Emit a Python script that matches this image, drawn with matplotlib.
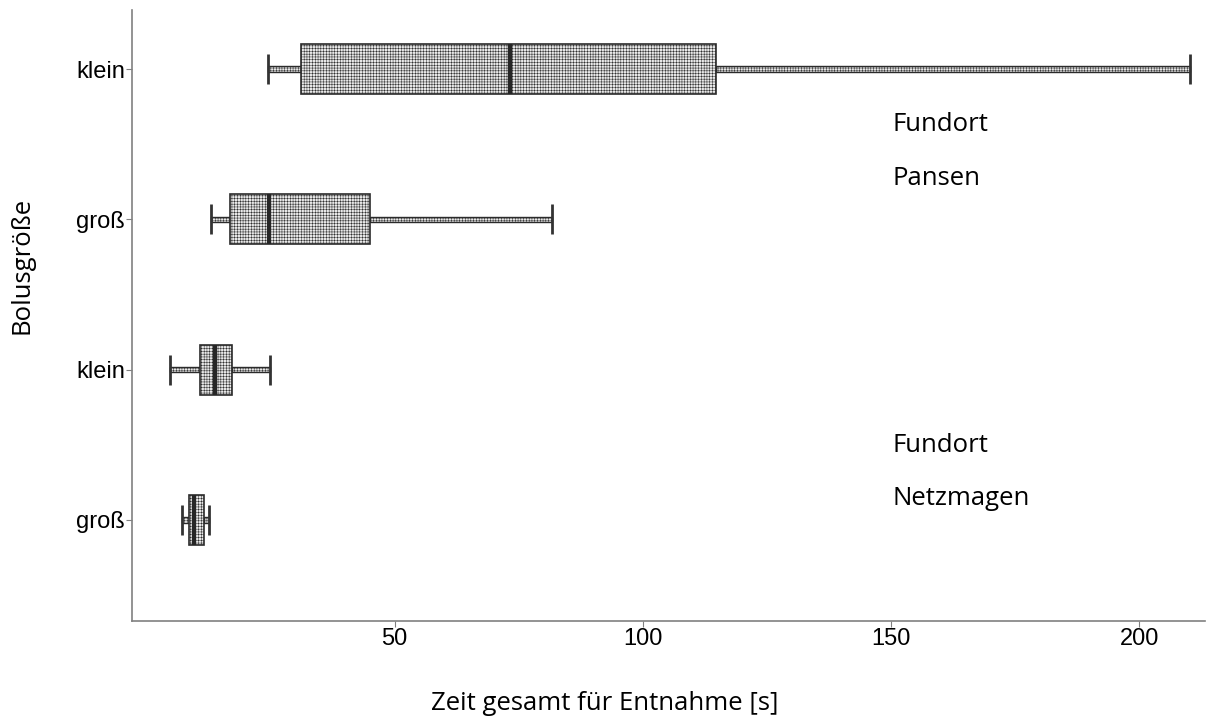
import matplotlib.pyplot as plt
import numpy as np

plt.rcParams["hatch.linewidth"] = 0.35
plt.rcParams["hatch.color"] = "#6e6e6e"

# groups from bottom to top: Netzmagen gross, Netzmagen klein, Pansen gross, Pansen klein
labels = ["groß", "klein", "groß", "klein"]
whisker_lo = [7.1, 4.8, 13.1, 24.5]
q1 = [8.5, 10.8, 16.8, 31.2]
median = [9.5, 13.9, 24.6, 73.3]
q3 = [11.5, 17.3, 45.1, 114.7]
whisker_hi = [12.7, 24.9, 81.6, 210.1]

xticks = [50, 100, 150, 200]

fig = plt.figure(figsize=(12.06, 7.18), dpi=100)
ax = fig.add_axes([132 / 1206, 97 / 718, 1073 / 1206, 611 / 718])

pos = np.arange(len(labels))
box_h = 0.333
wh_h = 0.035
cap_h = 0.2
edge = "#2b2b2b"
face = "#e8e8e8"
pattern = "++++++"

q1a, q3a = np.array(q1), np.array(q3)
lo, hi = np.array(whisker_lo), np.array(whisker_hi)

# whiskers as thin hatched bars
ax.barh(pos, q1a - lo, left=lo, height=wh_h, color=face, edgecolor=edge,
        linewidth=1.0, hatch=pattern)
ax.barh(pos, hi - q3a, left=q3a, height=wh_h, color=face, edgecolor=edge,
        linewidth=1.0, hatch=pattern)
# boxes
ax.barh(pos, q3a - q1a, left=q1a, height=box_h, color=face, edgecolor=edge,
        linewidth=1.2, hatch=pattern, zorder=3)
# medians and caps
ax.vlines(median, pos - box_h / 2, pos + box_h / 2, color="#262626", linewidth=3, zorder=4)
ax.vlines(whisker_lo, pos - cap_h / 2, pos + cap_h / 2, color="#333333", linewidth=2, zorder=4)
ax.vlines(whisker_hi, pos - cap_h / 2, pos + cap_h / 2, color="#333333", linewidth=2, zorder=4)

ax.set_xlim(-2.9, 213.2)
ax.set_ylim(-0.672, 3.393)
ax.set_yticks(pos)
ax.set_yticklabels(labels, fontfamily="Liberation Sans", fontsize=17)
ax.set_xticks(xticks)
ax.set_xticklabels([str(t) for t in xticks], fontfamily="Liberation Sans", fontsize=17)
ax.tick_params(axis="both", length=4, width=0.8, color="#808080", pad=1)

for side in ["top", "right"]:
    ax.spines[side].set_visible(False)
for side in ["left", "bottom"]:
    ax.spines[side].set_color("#808080")
    ax.spines[side].set_linewidth(1.2)

note_font = dict(fontfamily="Open Sans", fontsize=18.5, va="center", ha="left", color="black")
ax.text(150.2, 2.634, "Fundort", **note_font)
ax.text(150.2, 2.275, "Pansen", **note_font)
ax.text(150.2, 0.498, "Fundort", **note_font)
ax.text(150.2, 0.146, "Netzmagen", **note_font)

fig.text(605 / 1206, 1 - 703 / 718, "Zeit gesamt für Entnahme [s]",
         fontfamily="Open Sans", fontsize=18.5, ha="center", va="center")
fig.text(22 / 1206, 1 - 265 / 718, "Bolusgröße", fontfamily="Open Sans",
         fontsize=18.5, rotation=90, ha="center", va="center")

fig.savefig("out.png", dpi=100)
